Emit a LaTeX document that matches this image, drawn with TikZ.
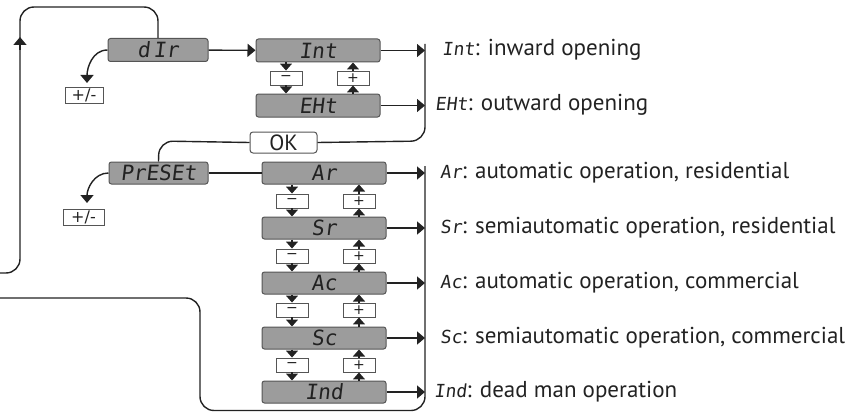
\documentclass[tikz,border=0pt]{standalone}
\usepackage{fontspec}
\setmainfont{PT Sans}
\newfontfamily\seg[FakeSlant=0.12]{DejaVu Sans Mono}
\newfontfamily\sym{DejaVu Sans}
\usetikzlibrary{arrows.meta}
\definecolor{boxfill}{HTML}{9C9C9C}
\definecolor{boxline}{HTML}{555555}
\definecolor{linec}{HTML}{222222}
\definecolor{txt}{HTML}{222222}
\newcommand{\lsg}[1]{{\seg\fontsize{18}{18}\selectfont #1}}
\begin{document}
\begin{tikzpicture}[x=1pt,y=-1pt,
  disp/.style={draw=boxline, fill=boxfill, rounded corners=2.5pt, minimum height=23pt, inner sep=0pt, line width=1pt, text=txt, font=\seg\fontsize{21}{21}\selectfont},
  pmbox/.style={draw=boxline, fill=white, minimum width=32pt, minimum height=14pt, inner sep=0pt, line width=0.9pt, text=txt, font=\sym\fontsize{14}{14}\selectfont},
  okbox/.style={draw=boxline, fill=white, rounded corners=3pt, minimum width=67pt, minimum height=21pt, inner sep=0pt, line width=1pt, text=txt, font=\fontsize{22}{22}\selectfont},
  lbl/.style={anchor=west, inner sep=0pt, text=txt, font=\fontsize{23}{23}\selectfont},
  conn/.style={draw=linec, line width=1.4pt},
  arr/.style={conn, -{Triangle[length=8pt,width=13pt]}},
  sarr/.style={conn, -{Triangle[length=7pt,width=12pt]}},
  loop/.style={conn, rounded corners=14pt}]
\useasboundingbox (0,0) rectangle (865,412);

% display boxes
\node[disp, minimum width=100pt] (dir) at (158,50) {d\,Ir};
\node[disp, minimum width=124pt] (int) at (318,50.5) {Int};
\node[disp, minimum width=124pt] (eht) at (318,105.5) {EHt};
\node[disp, minimum width=99pt, minimum height=22pt] (preset) at (158.5,173) {PrESEt};
\node[disp, minimum width=124pt, minimum height=22pt] (ar) at (324,173) {Ar};
\node[disp, minimum width=124pt, minimum height=22pt] (sr) at (324,228) {Sr};
\node[disp, minimum width=124pt, minimum height=22pt] (ac) at (324,283) {Ac};
\node[disp, minimum width=124pt, minimum height=22pt] (sc) at (324,338) {Sc};
\node[disp, minimum width=124pt, minimum height=22pt] (ind) at (324,392) {Ind};

% plus / minus boxes
\node[pmbox] (m0) at (286,78) {−};
\node[pmbox] (p0) at (353,78) {+};
\node[pmbox] (m1) at (292,201) {−};
\node[pmbox] (p1) at (359,201) {+};
\node[pmbox] (m2) at (292,256) {−};
\node[pmbox] (p2) at (359,256) {+};
\node[pmbox] (m3) at (292,310) {−};
\node[pmbox] (p3) at (359,310) {+};
\node[pmbox] (m4) at (292,365) {−};
\node[pmbox] (p4) at (359,365) {+};
\node[pmbox, minimum width=38pt, minimum height=16pt, font=\sym\fontsize{16}{16}\selectfont] (pm1) at (84,95) {+/-};
\node[pmbox, minimum width=41pt, minimum height=16pt, font=\sym\fontsize{16}{16}\selectfont] (pm2) at (83.5,217) {+/-};
\node[okbox] (ok) at (283.5,142.5) {OK};

% labels
\node[lbl] (lint) at (442,50) {\lsg{Int}: inward opening};
\node[lbl] (leht) at (435,105) {\lsg{EHt}: outward opening};
\node[lbl] (lar) at (440,173) {\lsg{Ar}: automatic operation, residential};
\node[lbl] (lsr) at (440,228) {\lsg{Sr}: semiautomatic operation, residential};
\node[lbl] (lac) at (440,283) {\lsg{Ac}: automatic operation, commercial};
\node[lbl] (lsc) at (440,338) {\lsg{Sc}: semiautomatic operation, commercial};
\node[lbl] (lind) at (434,392) {\lsg{Ind}: dead man operation};

% rails
\coordinate (rail) at (425,0);
\coordinate (railtop) at (425,44);
\coordinate (railtop2) at (425,166);
\coordinate (leftin) at (0,273);
\coordinate (leftin2) at (0,298);
\coordinate (tipA) at (87,83);
\coordinate (tipB) at (87,203);
\coordinate (upbase) at (20,50);
\coordinate (uptip) at (20,37);

% horizontal arrows
\draw[arr] (dir) -- (int);
\draw[conn] (preset) -- (ar);
\foreach \n in {int,eht,ar,sr,ac,sc,ind}
  \draw[arr] (\n.east) -- (\n.east -| rail);

% up/down small arrows
\draw[sarr] (int.south -| m0) -- (m0.north);
\draw[sarr] (m0.south) -- (eht.north -| m0);
\draw[sarr] (eht.north -| p0) -- (p0.south);
\draw[sarr] (p0.north) -- (int.south -| p0);
\foreach \a/\b/\m/\p in {ar/sr/m1/p1, sr/ac/m2/p2, ac/sc/m3/p3, sc/ind/m4/p4} {
  \draw[sarr] (\a.south -| \m) -- (\m.north);
  \draw[sarr] (\m.south) -- (\b.north -| \m);
  \draw[sarr] (\b.north -| \p) -- (\p.south);
  \draw[sarr] (\p.north) -- (\a.south -| \p);
}

% left curved arrows
\draw[arr] (dir.west) to[out=180,in=90] (tipA);
\draw[arr] (preset.west) to[out=180,in=90] (tipB);

% loops
\draw[loop] (railtop) -- (425,141) -- (ok.east);
\draw[loop] (ok.west) -- (159,141) -- (preset.north);
\draw[loop] (leftin) -- (20,273) -- (20,7) -- (158,7) -- (dir.north);
\draw[arr] (upbase) -- (uptip);
\draw[loop] (leftin2) -- (200,298) -- (200,410.5) -- (425,410.5) -- (railtop2);
\end{tikzpicture}
\end{document}
